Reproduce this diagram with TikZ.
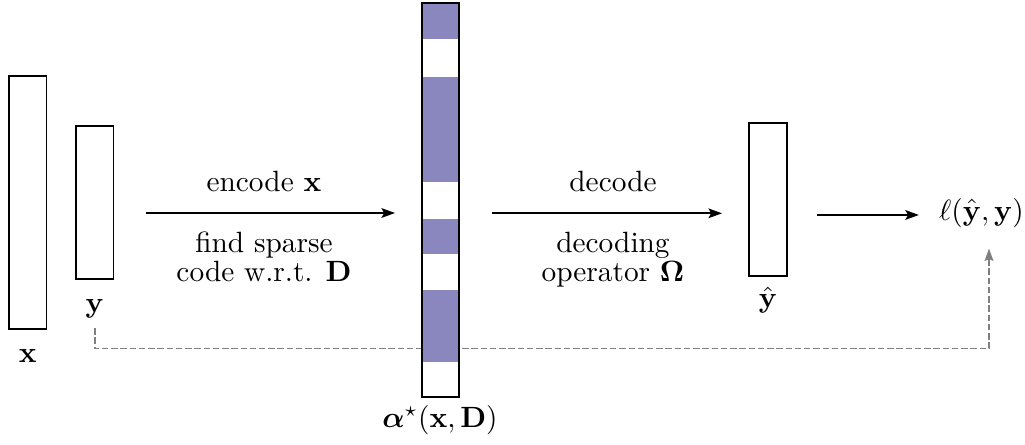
\documentclass[tikz,border=0pt]{standalone}
\usepackage{amsmath}
\usetikzlibrary{arrows.meta,calc}
\definecolor{codefill}{RGB}{137,135,190}
\definecolor{fbgray}{RGB}{128,128,128}
\def\unitpx{0.341}
\begin{document}
\begin{tikzpicture}[x=0.341pt,y=-0.341pt,
  vec/.style={draw=black,line width=0.6pt,fill=white,inner sep=0pt,outer sep=0pt},
  lab/.style={anchor=base,inner sep=3.33pt},
  txt/.style={anchor=base,inner sep=3.33pt},
  flow/.style={line width=0.6pt,-{Stealth[length=4.6pt,width=3.3pt,inset=0.9pt]}},
  feedback/.style={draw=fbgray,line width=0.6pt,dash pattern=on 2.2pt off 0.95pt,
    -{Stealth[length=4.2pt,width=3pt,inset=0.6pt]}}]
\useasboundingbox (0,0) rectangle (1025,444);

% vectors
\node[vec,minimum width=37.5*\unitpx pt,minimum height=253*\unitpx pt] (xr) at (27.8,202.5) {};
\node[vec,minimum width=37.5*\unitpx pt,minimum height=153*\unitpx pt] (yr) at (94.7,202.5) {};
\node[vec,minimum width=37.5*\unitpx pt,minimum height=152.5*\unitpx pt] (yh) at (768,199.5) {};

% labels
\node[lab] (xlab) at (27.8,362) {$\mathbf{x}$};
\node[lab] (ylab) at (94.7,312) {$\mathbf{y}$};
\node[lab] (yhlab) at (768,307.5) {$\hat{\mathbf{y}}$};
\node[lab] (loss) at (981.5,220) {$\ell(\hat{\mathbf{y}},\mathbf{y})$};

% feedback dashed path (under the code column)
\coordinate (turn) at (989,348.5);
\draw[feedback,shorten >=3.7pt] (ylab.south) |- (turn) -- (turn |- loss.south);

% sparse code column
\node[fill=white,inner sep=0pt,outer sep=0pt,minimum width=37.5*\unitpx pt,minimum height=393.5*\unitpx pt] (alpha) at (440.5,200) {};
\fill[codefill] (422,3.3) rectangle (459,39.3);
\fill[codefill] (422,76.7) rectangle (459,181.7);
\fill[codefill] (422,219) rectangle (459,254);
\fill[codefill] (422,290) rectangle (459,361.7);
\draw[line width=0.6pt] (alpha.south west) rectangle (alpha.north east);
\node[lab] (alab) at (440,427) {$\boldsymbol{\alpha}^{\star}(\mathbf{x},\mathbf{D})$};

% encode arrow
\draw[flow] ($(yr.east)+(32.5,10.5)$) -- ($(alpha.west)+(-26.75,13)$);
\node[txt] (enc1) at (264,191) {encode $\mathbf{x}$};
\node[txt] (enc2) at (264,252) {find sparse};
\node[txt] (enc3) at (264,281) {code w.r.t. $\mathbf{D}$};

% decode arrow
\draw[flow] ($(alpha.east)+(32.75,13.3)$) -- ($(yh.west)+(-27.25,13.8)$);
\node[txt] (dec1) at (613,191) {decode};
\node[txt] (dec2) at (613,252) {decoding};
\node[txt] (dec3) at (613,281) {operator $\mathbf{\Omega}$};

% loss arrow
\draw[flow] ($(yh.east)+(30.25,15.5)$) -- ($(loss.west)+(-10,2.3)$);
\end{tikzpicture}
\end{document}
